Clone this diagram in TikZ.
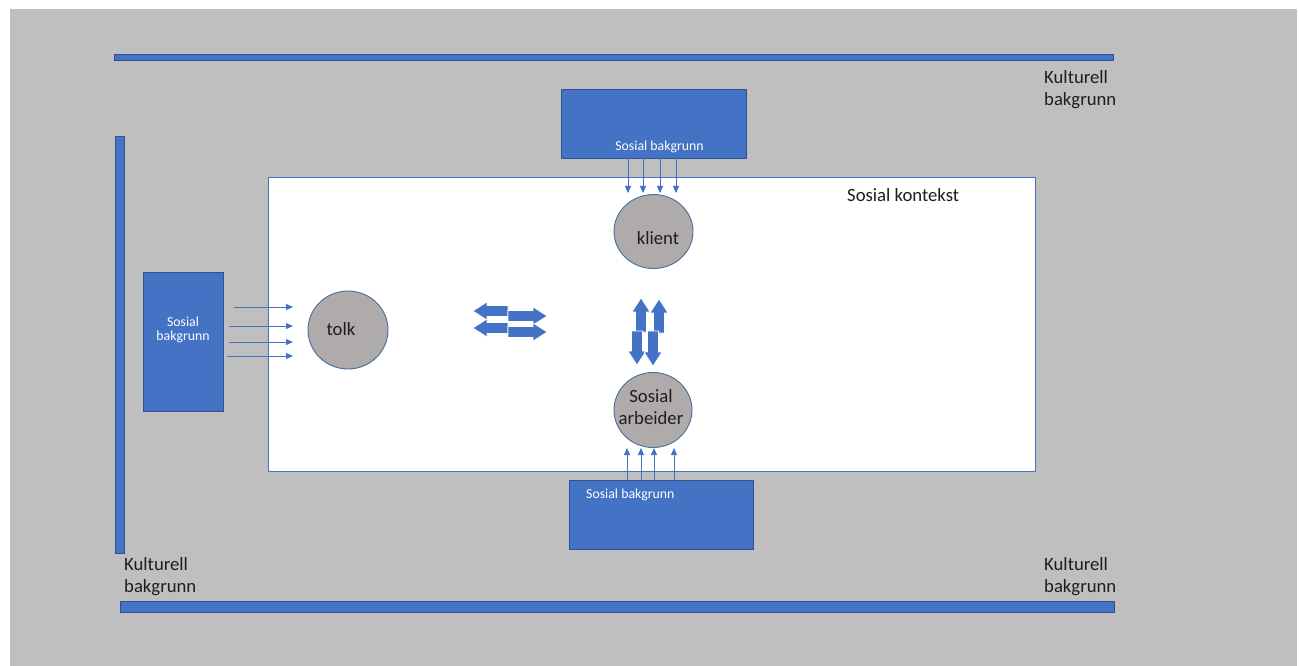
\documentclass[tikz,border=0pt]{standalone}
\usepackage{fontspec}
\setmainfont{Carlito}
\usetikzlibrary{arrows.meta,shapes.geometric}
\definecolor{bgray}{HTML}{BFBFBF}
\definecolor{oblue}{HTML}{4472C4}
\definecolor{oline}{HTML}{2F528F}
\definecolor{cfill}{HTML}{AFABAB}
\definecolor{cline}{HTML}{41719C}
\definecolor{tdark}{HTML}{1E1E1E}
\tikzset{
  bar/.style={fill=oblue, draw=oline, line width=0.5pt},
  bgbox/.style={rectangle, fill=oblue, draw=oline, line width=0.6pt, inner sep=0pt},
  context/.style={rectangle, fill=white, draw=oblue, line width=0.8pt, inner sep=0pt},
  person/.style={ellipse, fill=cfill, draw=cline, line width=0.9pt, inner sep=0pt},
  bigtext/.style={font=\fontsize{18.7}{22}\selectfont, text=tdark, inner sep=0pt},
  smalltext/.style={font=\fontsize{13.8}{14.5}\selectfont, text=white, inner sep=0pt},
  feed/.style={draw=oblue, line width=0.9pt, -{Triangle[length=7pt,width=6pt]}},
  blockarr/.style={fill=oblue, draw=white, line width=0.6pt, line join=miter},
}
\newcommand{\blockarrow}[4]{\draw[blockarr, shift={(#1,#2)}, rotate=#3] (0,-5.5) -- ({#4-14},-5.5) -- ({#4-14},-9) -- (#4,0) -- ({#4-14},9) -- ({#4-14},5.5) -- (0,5.5) -- cycle;}
\begin{document}
\begin{tikzpicture}[x=1pt, y=-1pt]
\useasboundingbox (0,0) rectangle (1299,666);
\fill[white] (0,0) rectangle (1299,666);
\fill[bgray] (10,9) rectangle (1297,666);
% cultural bars
\path[bar] (114,54) rectangle (1113,60);
\path[bar] (115,136) rectangle (124,553);
\path[bar] (120,601) rectangle (1114,612);
% social context
\node[context, minimum width=767pt, minimum height=294pt] (ctx) at (651.5,324) {};
% social background boxes
\node[bgbox, minimum width=185pt, minimum height=69pt] (topbox) at (653.5,123.5) {};
\node[bgbox, minimum width=80pt, minimum height=139pt] (leftbox) at (183,341.5) {};
\node[bgbox, minimum width=184pt, minimum height=69pt] (botbox) at (661,514.5) {};
% persons
\node[person, minimum width=79pt, minimum height=74pt] (klient) at (653.5,231.5) {};
\node[person, minimum width=80pt, minimum height=78pt] (tolk) at (348,330) {};
\node[person, minimum width=78pt, minimum height=75pt] (arbeider) at (653,410) {};
% feed arrows
\coordinate (t1) at (628,193); \coordinate (t2) at (643,193);
\coordinate (t3) at (660,193); \coordinate (t4) at (676,193);
\draw[feed] (628,158) -- (t1);
\draw[feed] (643,158) -- (t2);
\draw[feed] (660,158) -- (t3);
\draw[feed] (676,158) -- (t4);
\coordinate (l1) at (293,307); \coordinate (l2) at (293,326);
\coordinate (l3) at (293,342); \coordinate (l4) at (293,356);
\draw[feed] (234,307) -- (l1);
\draw[feed] (229,326) -- (l2);
\draw[feed] (229,342) -- (l3);
\draw[feed] (227,356) -- (l4);
\coordinate (b1) at (627,448); \coordinate (b2) at (641,448);
\coordinate (b3) at (654,448); \coordinate (b4) at (674,448);
\draw[feed] (627,480) -- (b1);
\draw[feed] (641,480) -- (b2);
\draw[feed] (654,480) -- (b3);
\draw[feed] (674,480) -- (b4);
% block arrows horizontal
\blockarrow{508}{311}{180}{35}
\blockarrow{508}{328}{180}{35}
\blockarrow{508}{316}{0}{39}
\blockarrow{508}{332}{0}{39}
% block arrows vertical
\blockarrow{641}{332}{90}{34}
\blockarrow{659}{333}{90}{34}
\blockarrow{637}{331}{-90}{34}
\blockarrow{653}{331}{-90}{35}
% texts
\node[bigtext, anchor=base] (klientlbl) at (658,244) {klient};
\node[bigtext, anchor=base] (tolklbl) at (341,335) {tolk};
\node[bigtext, anchor=north, align=center] (arbeiderlbl) at (651,389.5) {Sosial\\arbeider};
\node[bigtext, anchor=base west] (ctxlbl) at (847,201) {Sosial kontekst};
\node[bigtext, anchor=north west, align=left] (kb1) at (1044,70) {Kulturell\\bakgrunn};
\node[bigtext, anchor=north west, align=left] (kb2) at (124,557) {Kulturell\\bakgrunn};
\node[bigtext, anchor=north west, align=left] (kb3) at (1044,557) {Kulturell\\bakgrunn};
\node[smalltext, anchor=base] (toplbl) at (659.5,150.5) {Sosial bakgrunn};
\node[smalltext, anchor=base west] (botlbl) at (586,498) {Sosial bakgrunn};
\node[smalltext, anchor=north, align=center] (leftlbl) at (183,316.5) {Sosial\\bakgrunn};
\end{tikzpicture}
\end{document}
